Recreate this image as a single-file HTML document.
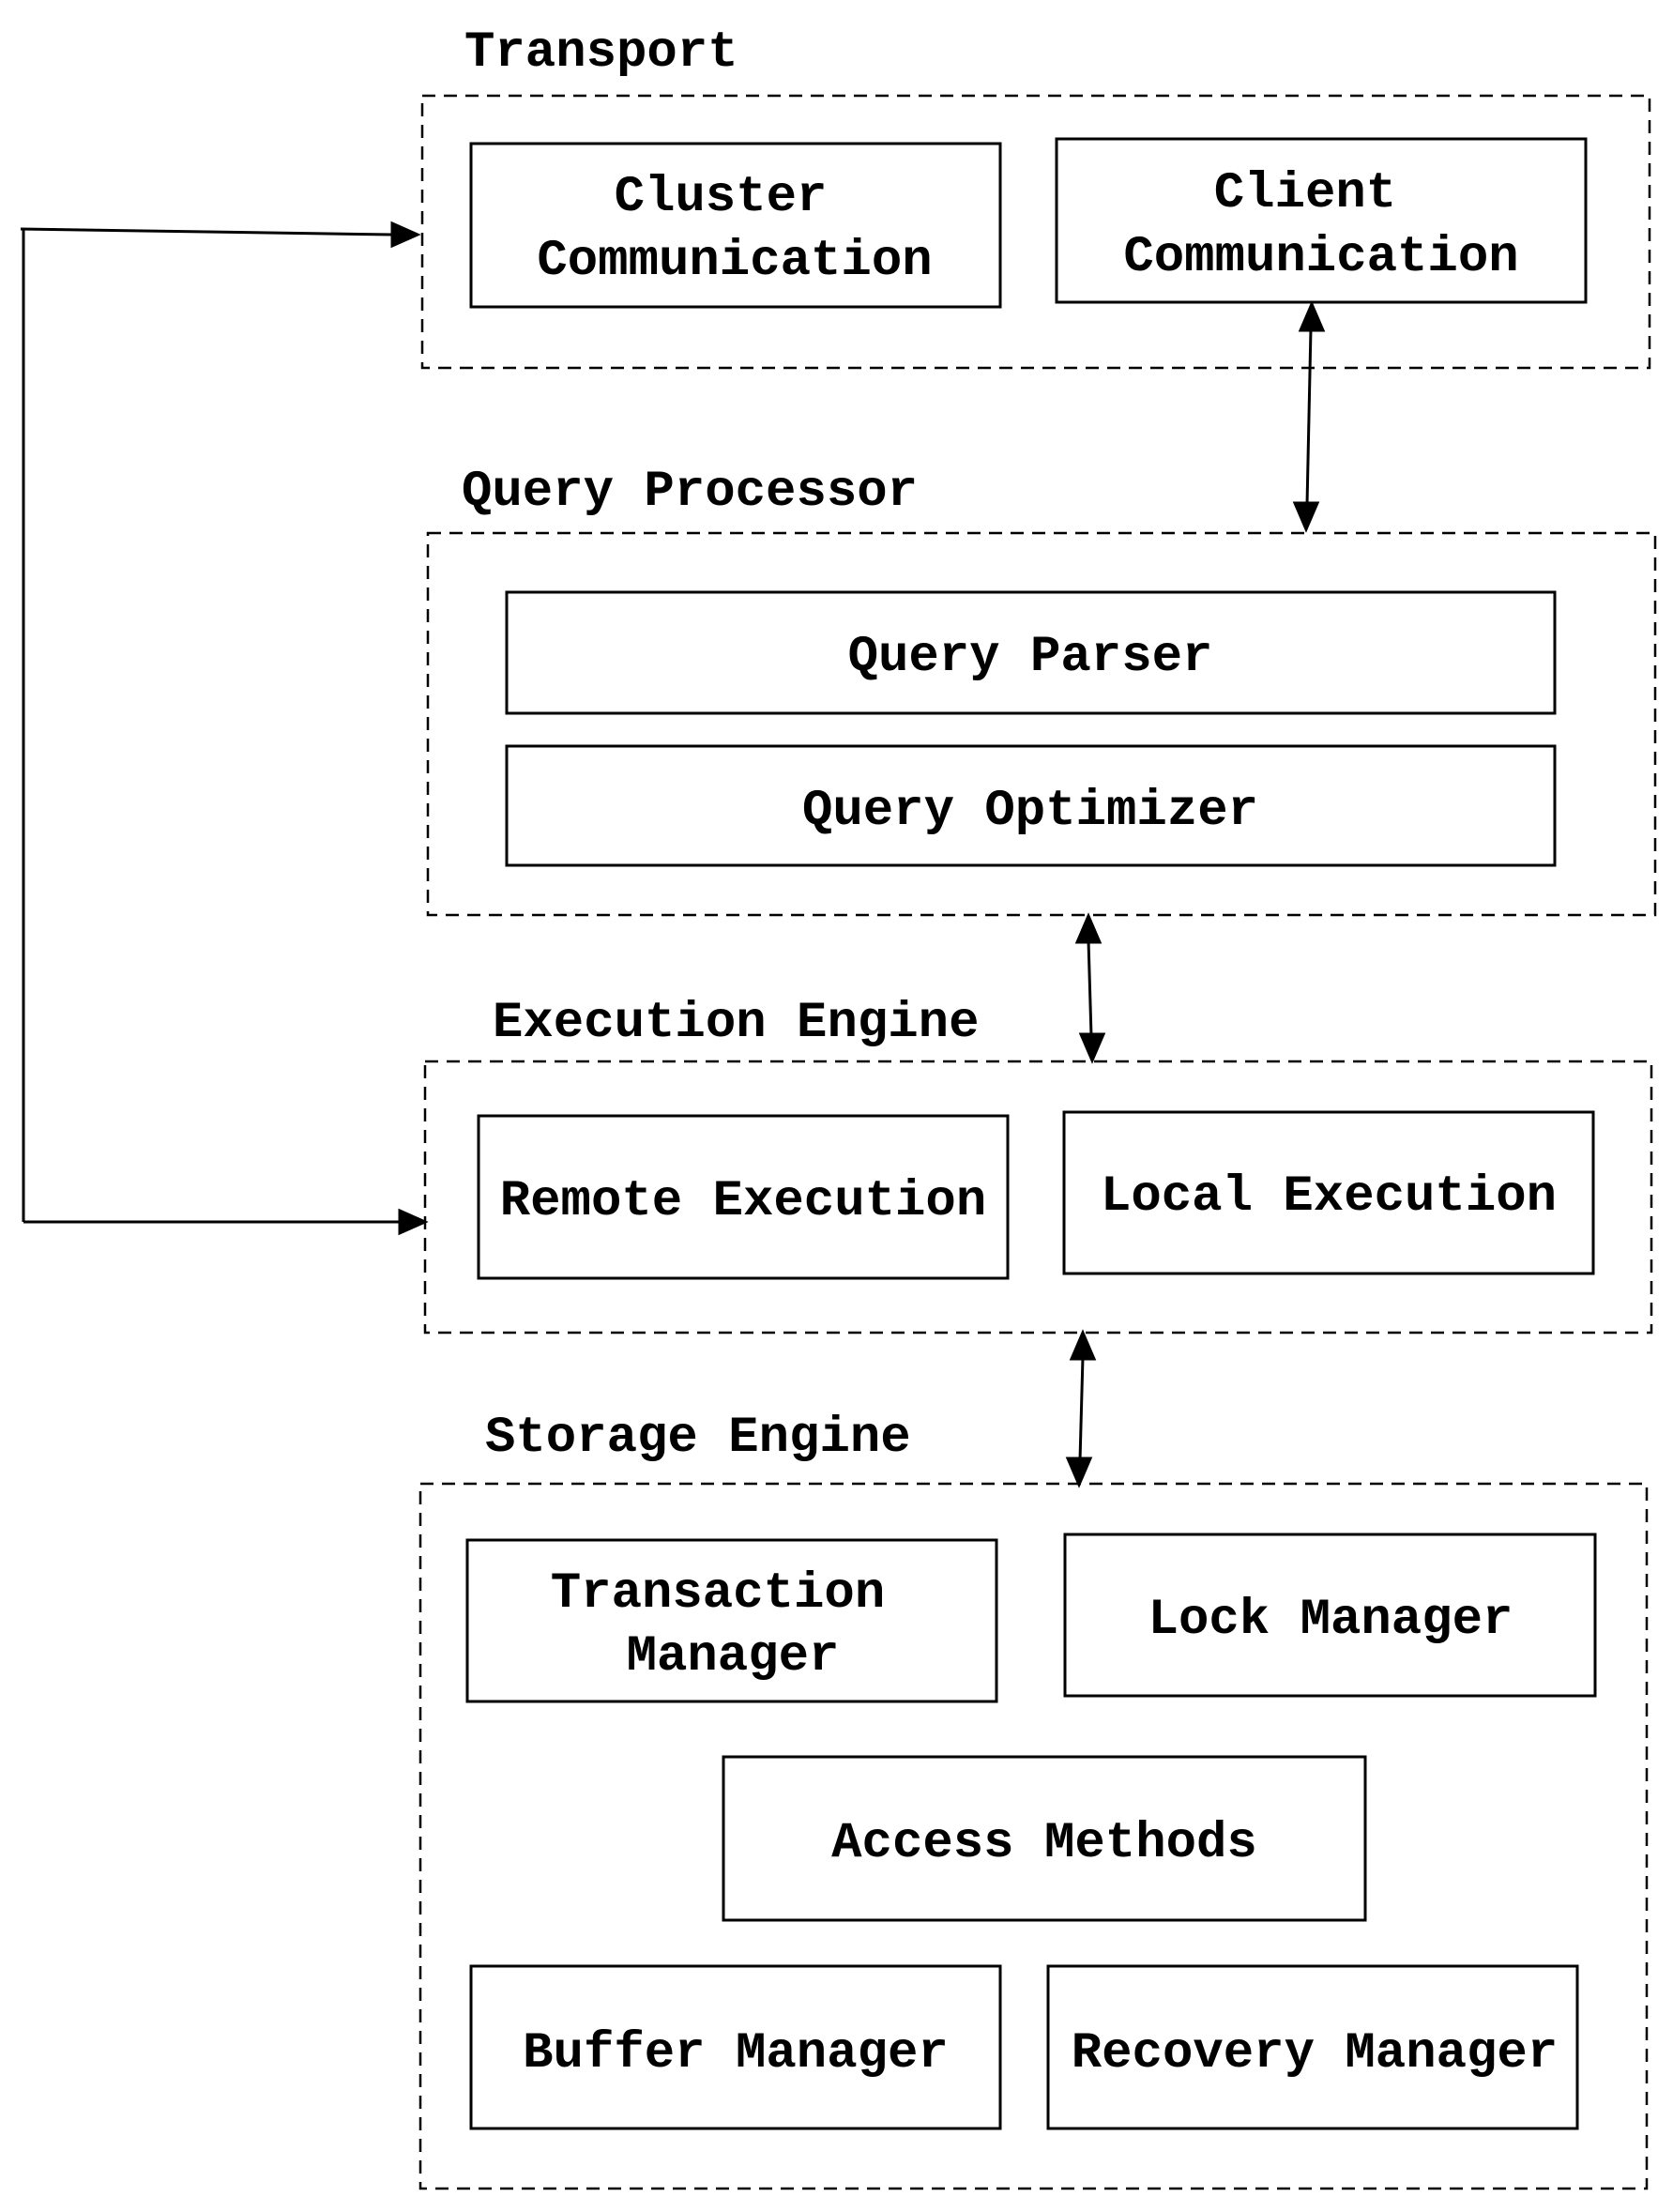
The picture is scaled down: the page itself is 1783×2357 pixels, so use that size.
<!DOCTYPE html>
<html><head><meta charset="utf-8"><style>
html,body{margin:0;padding:0;background:#fff;}
svg text{font-family:"Liberation Mono",monospace;font-weight:bold;font-size:54px;fill:#000;}
</style></head><body>
<svg width="1783" height="2352" viewBox="0 0 1783 2352" xmlns="http://www.w3.org/2000/svg">
<defs>
<marker id="a" viewBox="0 0 10 10" refX="9" refY="5" markerWidth="7" markerHeight="7" orient="auto-start-reverse" markerUnits="userSpaceOnUse" style="overflow:visible">
<path d="M0,0 L10,5 L0,10 z" fill="#000" transform="scale(3)" />
</marker>
</defs>
<g fill="none" stroke="#000" stroke-width="2.5" stroke-dasharray="14,9">
<rect x="450" y="102" width="1308" height="290"/>
<rect x="456" y="568" width="1308" height="407"/>
<rect x="453" y="1131" width="1307" height="289"/>
<rect x="448" y="1581" width="1307" height="751"/>
</g>
<g fill="none" stroke="#000" stroke-width="3">
<rect x="502" y="153" width="564" height="174"/>
<rect x="1126" y="148" width="564" height="174"/>
<rect x="540" y="631" width="1117" height="129"/>
<rect x="540" y="795" width="1117" height="127"/>
<rect x="510" y="1189" width="564" height="173"/>
<rect x="1134" y="1185" width="564" height="172"/>
<rect x="498" y="1641" width="564" height="172"/>
<rect x="1135" y="1635" width="565" height="172"/>
<rect x="771" y="1872" width="684" height="174"/>
<rect x="502" y="2095" width="564" height="173"/>
<rect x="1117" y="2095" width="564" height="173"/>
</g>
<g stroke="#000" stroke-width="3" fill="none">
<polyline points="25,1302 25,244"/>
<line x1="22" y1="244" x2="418" y2="250"/>
<path d="M418,238 L445,250 L418,262 z" fill="#000"/>
<line x1="25" y1="1302" x2="426" y2="1302"/>
<path d="M426,1290 L453,1302 L426,1314 z" fill="#000"/>
<line x1="1397" y1="350" x2="1393" y2="538"/>
<path d="M1398,324 L1386,352 L1410,352 z" fill="#000"/>
<path d="M1392,564 L1380,536 L1404,536 z" fill="#000"/>
<line x1="1160" y1="1002" x2="1163" y2="1104"/>
<path d="M1160,976 L1148,1004 L1172,1004 z" fill="#000"/>
<path d="M1164,1130 L1152,1102 L1176,1102 z" fill="#000"/>
<line x1="1154" y1="1446" x2="1151" y2="1556"/>
<path d="M1154,1420 L1142,1448 L1166,1448 z" fill="#000"/>
<path d="M1150,1582 L1138,1554 L1162,1554 z" fill="#000"/>
</g>
<text x="495" y="70">Transport</text>
<text x="492" y="538">Query Processor</text>
<text x="525" y="1104">Execution Engine</text>
<text x="517" y="1546">Storage Engine</text>
<g text-anchor="middle">
<text x="768" y="224">Cluster</text>
<text x="783" y="292">Communication</text>
<text x="1391" y="220">Client</text>
<text x="1408" y="288">Communication</text>
<text x="1098" y="714">Query Parser</text>
<text x="1098" y="878">Query Optimizer</text>
<text x="792" y="1294">Remote Execution</text>
<text x="1416" y="1289">Local Execution</text>
<text x="765" y="1712">Transaction</text>
<text x="781" y="1779">Manager</text>
<text x="1418" y="1740">Lock Manager</text>
<text x="1113" y="1978">Access Methods</text>
<text x="784" y="2202">Buffer Manager</text>
<text x="1401" y="2202">Recovery Manager</text>
</g>
</svg>
</body></html>
